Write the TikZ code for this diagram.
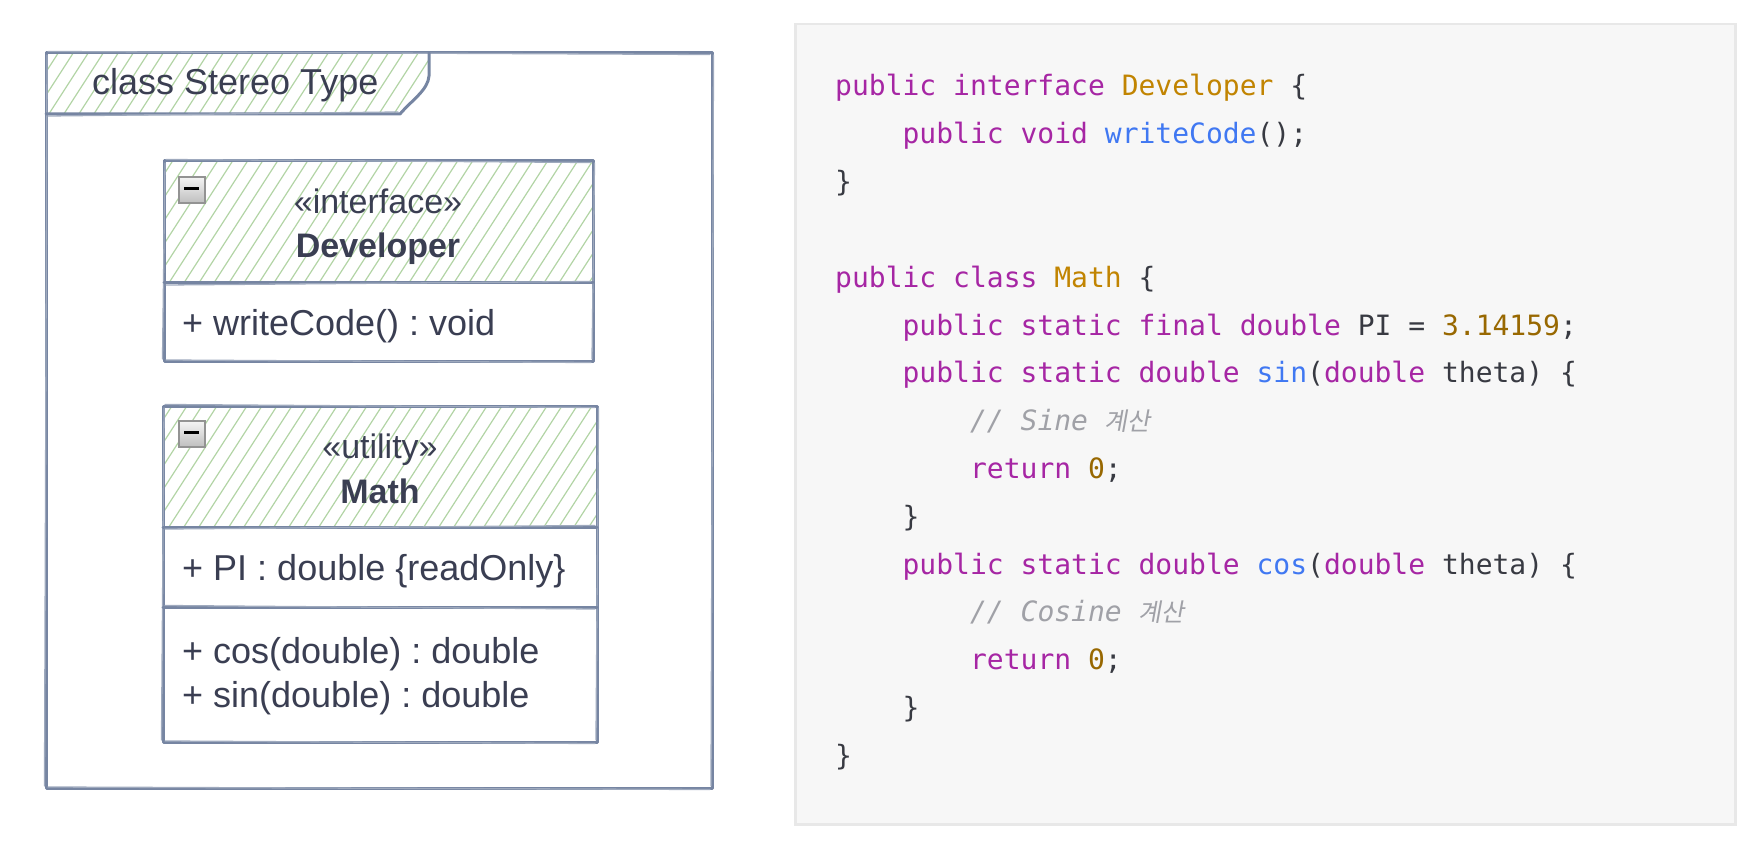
\documentclass[tikz,border=0pt]{standalone}
\usepackage{fontspec}
\setmainfont{Liberation Sans}
\setmonofont{DejaVu Sans Mono}[ItalicFont={DejaVu Sans Mono Oblique}]
\newfontfamily\krfont[FakeSlant=0.18]{Noto Sans CJK KR}
\frenchspacing
\definecolor{umlline}{RGB}{118,133,162}
\definecolor{umltext}{RGB}{58,62,82}
\definecolor{hatchc}{RGB}{178,212,165}
\definecolor{ckwc}{HTML}{A626A4}
\definecolor{cclsc}{HTML}{C18401}
\definecolor{cfnc}{HTML}{4078F2}
\definecolor{cnumc}{HTML}{986801}
\definecolor{ccmtc}{HTML}{A0A1A7}
\definecolor{cplain}{HTML}{383A42}
\definecolor{panelbg}{HTML}{F7F7F7}
\definecolor{panelborder}{HTML}{E8E8E8}
\newcommand\ckw[1]{\textcolor{ckwc}{#1}}
\newcommand\ccls[1]{\textcolor{cclsc}{#1}}
\newcommand\cfn[1]{\textcolor{cfnc}{#1}}
\newcommand\cnum[1]{\textcolor{cnumc}{#1}}
\newcommand\ccmt[2]{{\color{ccmtc}\itshape #1 {\krfont\fontsize{25}{30}\selectfont #2}}}
\tikzset{
  sketch/.style={draw=umlline, line width=3pt, line join=round, line cap=round},
  sketchb/.style={draw=umlline!70, line width=1.3pt, line cap=round},
  hatchline/.style={draw=hatchc, line width=1.2pt},
  codeline/.style={anchor=base west, inner sep=0pt, font=\fontsize{28}{34}\selectfont\ttfamily, text=cplain},
  member/.style={anchor=base west, inner sep=0pt, font=\fontsize{36}{43}\selectfont, text=umltext},
  stereo/.style={anchor=base, inner sep=0pt, font=\fontsize{34}{40}\selectfont, text=umltext},
  cname/.style={anchor=base, inner sep=0pt, font=\fontsize{34}{40}\selectfont\bfseries, text=umltext},
  titletext/.style={anchor=base west, inner sep=0pt, font=\fontsize{36}{43}\selectfont, text=umltext},
}
\newcommand\hatchlines[1]{%
  \foreach \k in {-120,-105,...,720} {\draw[hatchline] (\k,#1+6) -- ++(100,-155);}}
\newcommand\roughrect[4]{%
  \draw[sketch] (#1,#2) rectangle (#3,#4);
  \draw[sketchb] (#1+2,#2-1.5) -- (#3-2,#2+1.5) (#3+1.5,#2+2) -- (#3-1,#4-2)
     (#3-2,#4+1.5) -- (#1+2,#4-1) (#1-1.5,#4-2) -- (#1+1,#2+2);}
\newcommand\minusicon[3]{%
  \node[draw=gray!85, line width=1.6pt, top color=gray!8, bottom color=gray!50,
        minimum width=26pt, minimum height=26pt, inner sep=0pt, anchor=north west] (#3) at (#1,#2) {};
  \draw[black, line width=3.2pt] ([xshift=-7.5pt,yshift=1pt]#3.center) -- ([xshift=7.5pt,yshift=1pt]#3.center);}
\begin{document}
\begin{tikzpicture}[x=1pt,y=-1pt]
\useasboundingbox (0,0) rectangle (1762,842);
% ---------- UML frame ----------
\begin{scope}
  \clip (46,53) -- (429,53) -- (429,76) -- (400,114) -- (46,114) -- cycle;
  \hatchlines{114}
\end{scope}
\roughrect{46}{53}{712}{788}
\draw[sketch] (46,114) -- (400,114) .. controls (412,100) and (428,90) .. (429,76) -- (429,53);
\draw[sketchb] (48,116) -- (398,112);
\node[titletext] (title) at (92,95) {class Stereo Type};
% ---------- Developer ----------
\begin{scope}
  \clip (164,161) rectangle (593,283);
  \hatchlines{283}
\end{scope}
\roughrect{164}{161}{593}{361}
\draw[sketch] (164,283) -- (593,283);
\draw[sketchb] (166,285) -- (591,281.5);
\minusicon{178}{176}{devicon}
\node[stereo] (devst) at (378,214) {«interface»};
\node[cname] (devname) at (378,258) {Developer};
\node[member] (devop) at (182,335) {+ writeCode() : void};
% ---------- Math ----------
\begin{scope}
  \clip (163,406) rectangle (597,527);
  \hatchlines{527}
\end{scope}
\roughrect{163}{406}{597}{742}
\draw[sketch] (163,527) -- (597,527);
\draw[sketch] (163,607) -- (597,607);
\draw[sketchb] (165,529) -- (595,525.5);
\draw[sketchb] (165,605.5) -- (595,609);
\minusicon{178}{420}{mathicon}
\node[stereo] (mathst) at (380,458) {«utility»};
\node[cname] (mathname) at (380,503) {Math};
\node[member] (mathattr) at (182,580) {+ PI : double \{readOnly\}};
\node[member] (mathcos) at (182,663) {+ cos(double) : double};
\node[member] (mathsin) at (182,707) {+ sin(double) : double};
% ---------- code panel ----------
\node[draw=panelborder, line width=2.5pt, fill=panelbg, anchor=north west,
      minimum width=940pt, minimum height=800pt, inner sep=0pt] (panel) at (794,23) {};
\node[codeline] (c1) at (835,96) {\ckw{public} \ckw{interface} \ccls{Developer} \{};
\node[codeline] (c2) at (902.4,143.8) {\ckw{public} \ckw{void} \cfn{writeCode}();};
\node[codeline] (c3) at (835,191.6) {\}};
\node[codeline] (c5) at (835,287.2) {\ckw{public} \ckw{class} \ccls{Math} \{};
\node[codeline] (c6) at (902.4,335) {\ckw{public} \ckw{static} \ckw{final} \ckw{double} PI = \cnum{3.14159};};
\node[codeline] (c7) at (902.4,382.8) {\ckw{public} \ckw{static} \ckw{double} \cfn{sin}(\ckw{double} theta) \{};
\node[codeline] (c8) at (969.9,430.6) {\ccmt{// Sine}{계산}};
\node[codeline] (c9) at (969.9,478.4) {\ckw{return} \cnum{0};};
\node[codeline] (c10) at (902.4,526.2) {\}};
\node[codeline] (c11) at (902.4,574) {\ckw{public} \ckw{static} \ckw{double} \cfn{cos}(\ckw{double} theta) \{};
\node[codeline] (c12) at (969.9,621.8) {\ccmt{// Cosine}{계산}};
\node[codeline] (c13) at (969.9,669.6) {\ckw{return} \cnum{0};};
\node[codeline] (c14) at (902.4,717.4) {\}};
\node[codeline] (c15) at (835,765.2) {\}};
\end{tikzpicture}
\end{document}
